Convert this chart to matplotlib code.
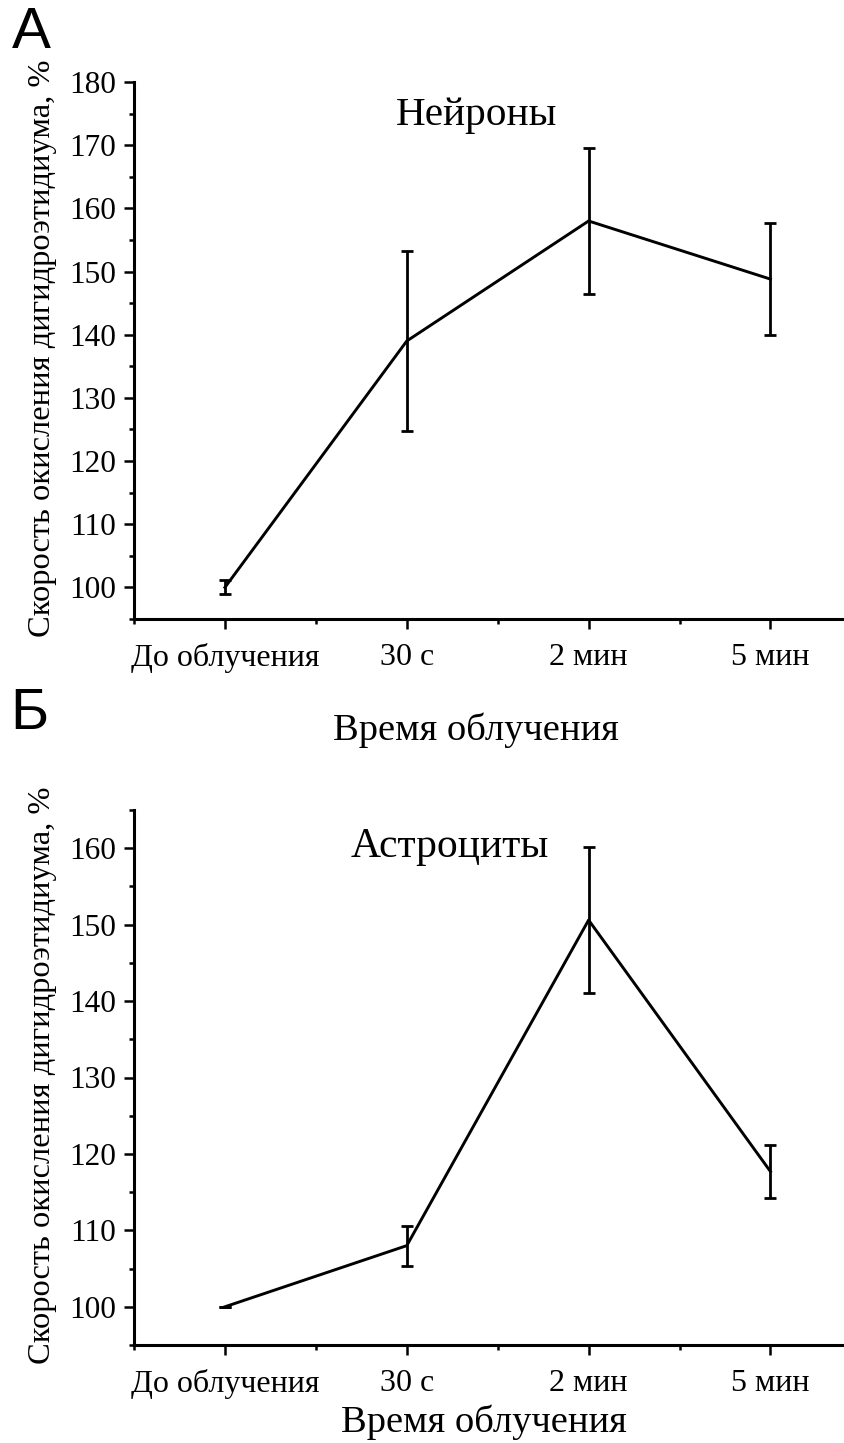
import matplotlib
matplotlib.use('Agg')
import matplotlib.pyplot as plt
from matplotlib.ticker import MultipleLocator

# ---------------------------------------------------------------------------
# Data: DHE oxidation rate (% of baseline) vs irradiation time
# ---------------------------------------------------------------------------
TIME_LABELS = ['До облучения', '30 с', '2 мин', '5 мин']

NEURONS_MEAN = [100.0, 139.0, 158.0, 148.8]
NEURONS_ERR = [1.1, 14.3, 11.6, 8.9]

ASTRO_MEAN = [100.0, 108.0, 150.6, 117.7]
ASTRO_ERR = [0.0, 2.6, 9.5, 3.5]

YLABEL = 'Скорость окисления дигидроэтидиума, %'
XLABEL = 'Время облучения'

plt.rcParams.update({
    'font.family': ['Liberation Serif', 'DejaVu Serif'],
    'axes.linewidth': 2.2,
    'xtick.direction': 'out',
    'ytick.direction': 'out',
    'xtick.major.size': 7,
    'ytick.major.size': 7,
    'xtick.minor.size': 3.6,
    'ytick.minor.size': 3.6,
    'xtick.major.width': 1.8,
    'ytick.major.width': 1.8,
    'xtick.minor.width': 1.8,
    'ytick.minor.width': 1.8,
})

W, H = 845, 1443
fig = plt.figure(figsize=(W / 100, H / 100), dpi=100)


def px_axes(left, top, right, bottom):
    return fig.add_axes([left / W, 1 - bottom / H, (right - left) / W, (bottom - top) / H])


def draw_panel(ax, mean, err, ylim, title, title_xy, title_size):
    x = list(range(len(TIME_LABELS)))
    ax.errorbar(x, mean, yerr=err, color='black', lw=2.1, elinewidth=2.0,
                capsize=4.6, capthick=2.0)
    ax.set_xlim(-0.5, 3.41)
    ax.set_ylim(*ylim)
    ax.set_xticks(x)
    ax.set_xticklabels(TIME_LABELS, fontsize=23)
    ax.xaxis.set_minor_locator(MultipleLocator(0.5))
    ax.yaxis.set_major_locator(MultipleLocator(10))
    ax.yaxis.set_minor_locator(MultipleLocator(5))
    ax.tick_params(axis='y', labelsize=22.5, pad=6)
    ax.tick_params(axis='x', pad=10)
    ax.spines['top'].set_visible(False)
    ax.spines['right'].set_visible(False)
    ax.set_ylabel(YLABEL, fontsize=23.4)
    ax.yaxis.set_label_coords(-0.108, 0.505)
    ax.text(*title_xy, title, transform=ax.transAxes, fontsize=title_size,
            ha='center', va='center')


ax_top = px_axes(134, 82, 845, 619)
draw_panel(ax_top, NEURONS_MEAN, NEURONS_ERR, (95, 180), 'Нейроны',
           ((477 - 134) / 711, (619 - 116) / 537), 29.7)
ax_top.set_xlabel(XLABEL, fontsize=27.7)
ax_top.xaxis.set_label_coords((476 - 134) / 711, -(712 - 619) / 537)

ax_bot = px_axes(134, 810, 845, 1345)
draw_panel(ax_bot, ASTRO_MEAN, ASTRO_ERR, (95, 165), 'Астроциты',
           ((450 - 134) / 711, (1345 - 847) / 535), 30)
ax_bot.set_xlabel(XLABEL, fontsize=27.7)
ax_bot.xaxis.set_label_coords((484 - 134) / 711, -(1404 - 1345) / 535)

# panel letters
fig.text(31 / W, 1 - 33 / H, 'А', family=['Liberation Sans', 'DejaVu Sans'],
         fontsize=42, ha='center', va='center')
fig.text(29 / W, 1 - 714 / H, 'Б', family=['Liberation Sans', 'DejaVu Sans'],
         fontsize=42, ha='center', va='center')

fig.savefig('out.png', dpi=100)
